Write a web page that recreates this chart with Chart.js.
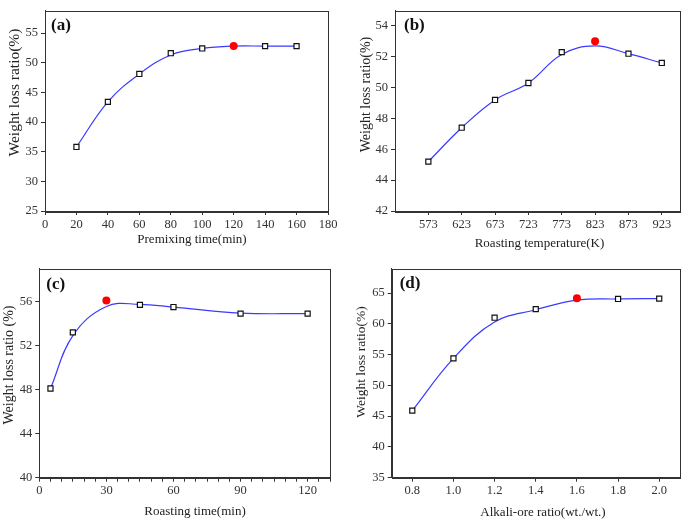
<!DOCTYPE html>
<html>
<head>
<meta charset="utf-8">
<script src="https://cdn.jsdelivr.net/npm/chart.js@4.4.0/dist/chart.umd.min.js"></script>
<style>
  body { margin: 0; background: #fff; }
  #wrap { position: relative; width: 685px; height: 520px; overflow: hidden; }
  .cell { position: absolute; }
</style>
</head>
<body>
<div id="wrap">
  <div class="cell" style="left:0;top:0"><canvas id="chart_a" width="340" height="258"></canvas></div>
  <div class="cell" style="left:340px;top:0"><canvas id="chart_b" width="345" height="258"></canvas></div>
  <div class="cell" style="left:0;top:258px"><canvas id="chart_c" width="340" height="262"></canvas></div>
  <div class="cell" style="left:340px;top:258px"><canvas id="chart_d" width="345" height="262"></canvas></div>
</div>
<script>
// (a) premixing time
var aX = [20, 40, 60, 80, 100, 140, 160];
var aY = [35.8, 43.4, 48.1, 51.6, 52.4, 52.8, 52.8];
var aBest = [120, 52.8];
var aCurveX = [20, 40, 60, 80, 100, 120, 140, 160];
var aCurveY = [35.8, 43.4, 48.1, 51.3, 52.4, 52.8, 52.8, 52.8];
var aXTicks = [0, 20, 40, 60, 80, 100, 120, 140, 160, 180];
var aYTicks = [25, 30, 35, 40, 45, 50, 55];

// (b) roasting temperature
var bX = [573, 623, 673, 723, 773, 873, 923];
var bY = [45.2, 47.4, 49.2, 50.3, 52.3, 52.2, 51.6];
var bBest = [823, 53.0];
var bCurveX = [573, 623, 673, 723, 773, 823, 873, 923];
var bCurveY = [45.2, 47.4, 49.2, 50.3, 52.15, 52.7, 52.2, 51.6];
var bXTicks = [573, 623, 673, 723, 773, 823, 873, 923];
var bYTicks = [42, 44, 46, 48, 50, 52, 54];

// (c) roasting time
var cX = [5, 15, 45, 60, 90, 120];
var cY = [48.1, 53.2, 55.7, 55.5, 54.9, 54.9];
var cBest = [30, 56.1];
var cCurveX = [5, 15, 30, 45, 60, 90, 120];
var cCurveY = [48.1, 52.9, 55.55, 55.75, 55.5, 54.95, 54.9];
var cXTicks = [0, 30, 60, 90, 120];
var cYTicks = [40, 44, 48, 52, 56];

// (d) alkali-ore ratio
var dX = [0.8, 1.0, 1.2, 1.4, 1.8, 2.0];
var dY = [45.9, 54.4, 61.0, 62.4, 64.05, 64.1];
var dBest = [1.6, 64.15];
var dCurveX = [0.8, 1.0, 1.2, 1.4, 1.6, 1.8, 2.0];
var dCurveY = [45.9, 54.4, 60.3, 62.3, 63.85, 64.05, 64.1];
var dXTicks = [0.8, 1.0, 1.2, 1.4, 1.6, 1.8, 2.0];
var dYTicks = [35, 40, 45, 50, 55, 60, 65];

var FONT = '"Liberation Serif", "Times New Roman", serif';
Chart.defaults.font.family = FONT;
Chart.defaults.font.size = 12.5;
Chart.defaults.color = '#333';

function pairs(xs, ys) {
    return xs.map(function(x, i) { return { x: x, y: ys[i] }; });
}

// box around the plot, panel tag and axis titles
var framePlugin = {
    id: 'frame',
    afterDraw: function(chart, args, o) {
        var ctx = chart.ctx, ca = chart.chartArea;
        ctx.save();
        ctx.strokeStyle = '#333';
        ctx.lineWidth = 1;
        ctx.strokeRect(Math.round(ca.left) + 0.5, Math.round(ca.top) + 0.5,
            Math.round(ca.right - ca.left), Math.round(ca.bottom - ca.top));

        ctx.fillStyle = '#111';
        ctx.textBaseline = 'middle';
        ctx.textAlign = 'left';
        ctx.font = 'bold 17px ' + FONT;
        ctx.fillText(o.tag, ca.left + o.tagDx, ca.top + o.tagDy);

        ctx.fillStyle = '#222';
        ctx.textAlign = 'center';
        ctx.font = o.xSize + 'px ' + FONT;
        ctx.fillText(o.xTitle, o.xPos[0], o.xPos[1]);

        ctx.translate(o.yPos[0], o.yPos[1]);
        ctx.rotate(-Math.PI / 2);
        ctx.font = o.ySize + 'px ' + FONT;
        ctx.fillText(o.yTitle, 0, 0);
        ctx.restore();
    }
};

function makePanel(id, p) {
    var canvas = document.getElementById(id).getContext('2d');
    return new Chart(canvas, {
        type: 'scatter',
        data: {
            datasets: [{
                    data: [{ x: p.best[0], y: p.best[1] }],
                    pointStyle: 'circle',
                    pointRadius: 4,
                    backgroundColor: '#ff0000',
                    borderColor: '#ff0000',
                    borderWidth: 0
                },
                {
                    data: pairs(p.x, p.y),
                    pointStyle: 'rect',
                    pointRadius: 3.6,
                    backgroundColor: '#ffffff',
                    borderColor: '#111111',
                    borderWidth: 1.2
                },
                {
                    data: pairs(p.cx, p.cy),
                    showLine: true,
                    tension: 0.4,
                    pointRadius: 0,
                    borderColor: '#3a3aff',
                    borderWidth: 1.2
                }
            ]
        },
        options: {
            responsive: false,
            animation: false,
            devicePixelRatio: 1,
            layout: { padding: { left: 0, right: p.padR, top: p.padT, bottom: 0 } },
            plugins: {
                legend: { display: false },
                tooltip: { enabled: false },
                frame: p.frame
            },
            scales: {
                x: {
                    type: 'linear',
                    min: p.xMin,
                    max: p.xMax,
                    afterBuildTicks: function(scale) {
                        scale.ticks = p.xTickList.map(function(v) { return { value: v }; });
                    },
                    afterFit: function(scale) { scale.height = p.xH; },
                    ticks: {
                        autoSkip: false,
                        maxRotation: 0,
                        padding: 2,
                        color: '#333',
                        callback: p.xFmt
                    },
                    grid: { drawOnChartArea: false, tickLength: 4, tickColor: '#333' },
                    border: { color: '#333', width: 1 }
                },
                y: {
                    min: p.yMin,
                    max: p.yMax,
                    afterBuildTicks: function(scale) {
                        scale.ticks = p.yTicks.map(function(v) { return { value: v }; });
                    },
                    afterFit: function(scale) { scale.width = p.yW; },
                    ticks: { padding: 3, color: '#333' },
                    grid: { drawOnChartArea: false, tickLength: 4, tickColor: '#333' },
                    border: { color: '#333', width: 1 }
                }
            }
        },
        plugins: [framePlugin]
    });
}

function plain(v) { return String(v); }

// minor ticks every 5 min on (c), labels only at the main ticks
var cMinor = [];
for (var t = 0; t <= 130; t += 5) cMinor.push(t);

window.chartA = makePanel('chart_a', {
    x: aX, y: aY, best: aBest, cx: aCurveX, cy: aCurveY,
    xMin: 0, xMax: 180, yMin: 25, yMax: 58.8,
    xTickList: aXTicks, yTicks: aYTicks, xFmt: plain,
    padR: 12, padT: 2.5, yW: 45, xH: 47,
    frame: { tag: '(a)', tagDx: 6, tagDy: 15,
        xTitle: 'Premixing time(min)', xPos: [192, 240], xSize: 13,
        yTitle: 'Weight loss ratio(%)', yPos: [14.5, 92.5], ySize: 15.5 }
});

window.chartB = makePanel('chart_b', {
    x: bX, y: bY, best: bBest, cx: bCurveX, cy: bCurveY,
    xMin: 523, xMax: 950, yMin: 42, yMax: 55,
    xTickList: bXTicks, yTicks: bYTicks, xFmt: plain,
    padR: 2, padT: 2.5, yW: 55, xH: 47,
    frame: { tag: '(b)', tagDx: 9, tagDy: 15.5,
        xTitle: 'Roasting temperature(K)', xPos: [199.5, 244], xSize: 13,
        yTitle: 'Weight loss ratio(%)', yPos: [26, 94.5], ySize: 14 }
});

window.chartC = makePanel('chart_c', {
    x: cX, y: cY, best: cBest, cx: cCurveX, cy: cCurveY,
    xMin: 0, xMax: 130, yMin: 40, yMax: 59,
    xTickList: cMinor, yTicks: cYTicks,
    xFmt: function(v) { return cXTicks.indexOf(v) >= 0 ? String(v) : ''; },
    padR: 10, padT: 4.3, yW: 39.3, xH: 42.3,
    frame: { tag: '(c)', tagDx: 7, tagDy: 16,
        xTitle: 'Roasting time(min)', xPos: [195, 254], xSize: 13,
        yTitle: 'Weight loss ratio (%)', yPos: [9.5, 107], ySize: 14 }
});

window.chartD = makePanel('chart_d', {
    x: dX, y: dY, best: dBest, cx: dCurveX, cy: dCurveY,
    xMin: 0.7, xMax: 2.1, yMin: 35, yMax: 69,
    xTickList: dXTicks, yTicks: dYTicks,
    xFmt: function(v) { return v.toFixed(1); },
    padR: 5, padT: 4.3, yW: 51.7, xH: 42.3,
    frame: { tag: '(d)', tagDx: 8, tagDy: 15.5,
        xTitle: 'Alkali-ore ratio(wt./wt.)', xPos: [203, 255], xSize: 13,
        yTitle: 'Weight loss ratio(%)', yPos: [21, 104], ySize: 13.5 }
});
</script>
</body>
</html>
